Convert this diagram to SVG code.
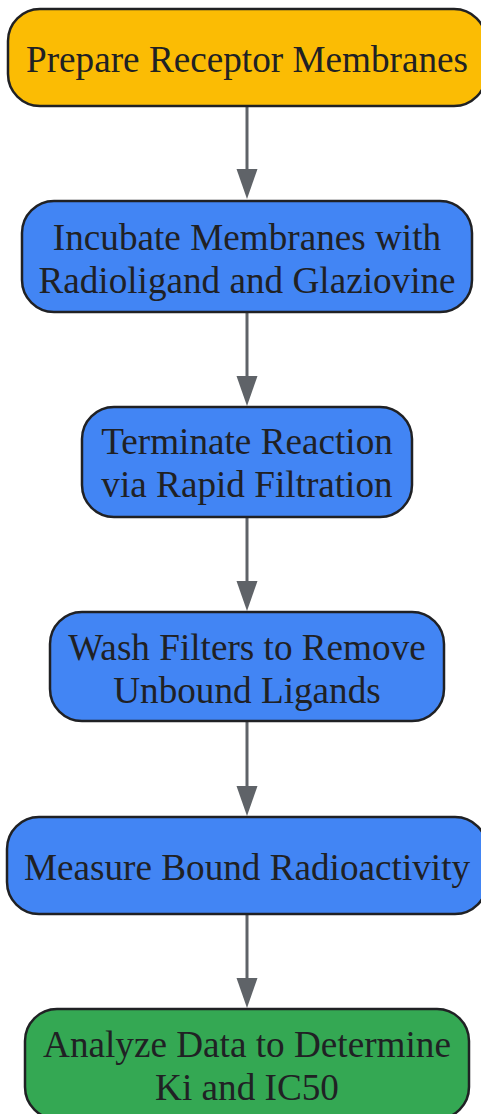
<svg xmlns="http://www.w3.org/2000/svg" width="481" height="1114" viewBox="0 0 481 1114">
<defs>
<style>
.n rect{stroke:#202124;stroke-width:2.5}
.n text{font-family:"Liberation Serif",serif;font-size:37.2px;fill:#202124;text-anchor:middle}
.e line{stroke:#5F6368;stroke-width:3}
.e polygon{fill:#5F6368}
</style>
</defs>
<rect width="481" height="1114" fill="#ffffff"/>
<g class="e">
<line x1="247" y1="106" x2="247" y2="172"/>
<line x1="247" y1="312" x2="247" y2="380"/>
<line x1="247" y1="517" x2="247" y2="585"/>
<line x1="247" y1="721" x2="247" y2="790"/>
<line x1="247" y1="914" x2="247" y2="982"/>
<polygon points="236.5,169 257.5,169 247,199"/>
<polygon points="236.5,376 257.5,376 247,406"/>
<polygon points="236.5,581 257.5,581 247,611"/>
<polygon points="236.5,786 257.5,786 247,816"/>
<polygon points="236.5,978 257.5,978 247,1008"/>
</g>
<g id="n1" class="n"><rect x="8" y="9" width="478" height="97" rx="32" fill="#FBBC04"/><text x="247" y="71.5">Prepare Receptor Membranes</text></g>
<g id="n2" class="n"><rect x="22" y="201" width="450" height="111" rx="32" fill="#4285F4"/><text x="247" y="249.5">Incubate Membranes with</text><text x="247" y="293">Radioligand and Glaziovine</text></g>
<g id="n3" class="n"><rect x="82" y="407" width="330" height="110" rx="32" fill="#4285F4"/><text x="247" y="453.5">Terminate Reaction</text><text x="247" y="497">via Rapid Filtration</text></g>
<g id="n4" class="n"><rect x="50" y="612" width="394" height="109" rx="32" fill="#4285F4"/><text x="247" y="659.5">Wash Filters to Remove</text><text x="247" y="703">Unbound Ligands</text></g>
<g id="n5" class="n"><rect x="7" y="817" width="480" height="97" rx="32" fill="#4285F4"/><text x="247" y="879.5">Measure Bound Radioactivity</text></g>
<g id="n6" class="n"><rect x="25" y="1009" width="444" height="110" rx="32" fill="#34A853"/><text x="247" y="1056.5">Analyze Data to Determine</text><text x="247" y="1100">Ki and IC50</text></g>
</svg>
